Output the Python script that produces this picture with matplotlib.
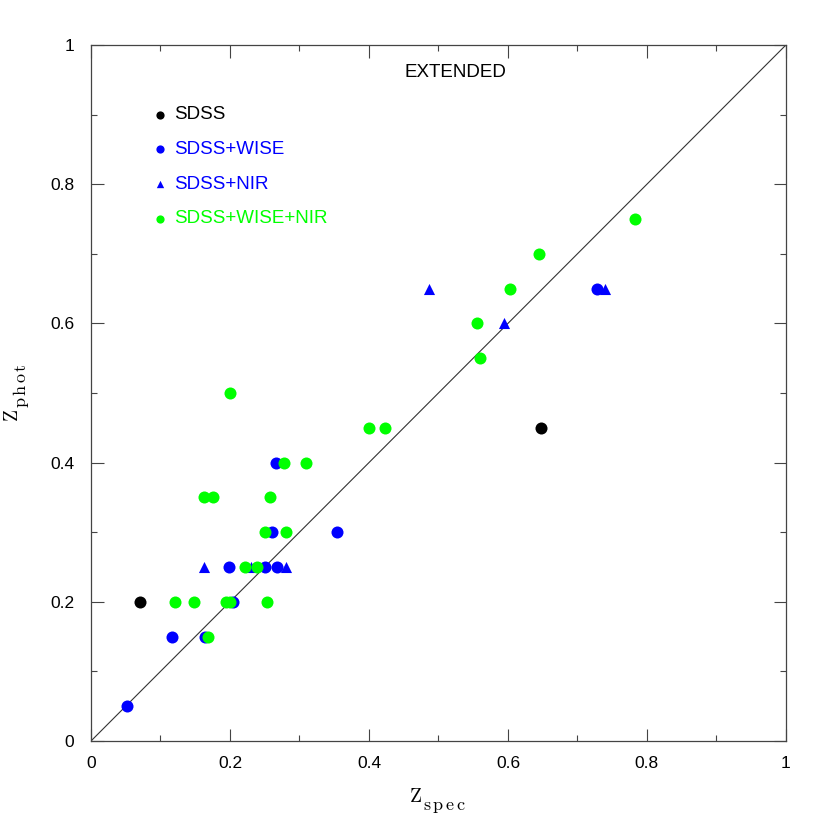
import matplotlib
matplotlib.use('Agg')
import matplotlib.pyplot as plt
from matplotlib.ticker import MultipleLocator

plt.rcParams['font.family'] = ['Liberation Sans', 'DejaVu Sans']
plt.rcParams['mathtext.fontset'] = 'cm'

# photometric vs spectroscopic redshifts
sdss_x = [0.070, 0.648]
sdss_y = [0.20, 0.45]

wise_x = [0.052, 0.117, 0.164, 0.204, 0.198, 0.250, 0.267, 0.260, 0.354, 0.266, 0.728]
wise_y = [0.05, 0.15, 0.15, 0.20, 0.25, 0.25, 0.25, 0.30, 0.30, 0.40, 0.65]

nir_x = [0.163, 0.230, 0.281, 0.486, 0.595, 0.739]
nir_y = [0.25, 0.25, 0.25, 0.65, 0.60, 0.65]

all_x = [0.121, 0.148, 0.194, 0.200, 0.254, 0.169, 0.222, 0.239, 0.251, 0.280,
         0.1625, 0.176, 0.258, 0.278, 0.310, 0.200, 0.400, 0.423, 0.555, 0.560,
         0.603, 0.644, 0.783]
all_y = [0.20, 0.20, 0.20, 0.20, 0.20, 0.15, 0.25, 0.25, 0.30, 0.30,
         0.35, 0.35, 0.35, 0.40, 0.40, 0.50, 0.45, 0.45, 0.60, 0.55,
         0.65, 0.70, 0.75]

labels = ['SDSS', 'SDSS+WISE', 'SDSS+NIR', 'SDSS+WISE+NIR']
colors = ['black', '#0000ff', '#0000ff', '#00ff00']
markers = ['o', 'o', '^', 'o']

W = 830.0  # figure size in pixels, used to place the axis labels

fig = plt.figure(figsize=(8.3, 8.3), dpi=100)
ax = fig.add_axes([0.1096, 0.1072, 0.8373, 0.8386])

ax.plot([0, 1], [0, 1], color='#333333', linewidth=0.8, zorder=1)

ax.scatter(sdss_x, sdss_y, s=75, c='black', marker='o', linewidths=0, zorder=3)
ax.scatter(wise_x, wise_y, s=75, c='#0000ff', marker='o', linewidths=0, zorder=3)
ax.scatter(nir_x, nir_y, s=64, c='#0000ff', marker='^', linewidths=0, zorder=3)
ax.scatter(all_x, all_y, s=75, c='#00ff00', marker='o', linewidths=0, zorder=4)

# hand-made legend
for i, (lab, col, mk) in enumerate(zip(labels, colors, markers)):
    yy = 0.90 - i * 0.05
    ax.scatter([0.1], [yy], s=35 if mk == 'o' else 28, c=col, marker=mk, linewidths=0)
    ax.text(0.12, yy, lab, color=col, fontsize=13.5, va='center', ha='left')

ax.text(0.525, 0.96, 'EXTENDED', fontsize=13.5, ha='center', va='center')

ax.set_xlim(0, 1)
ax.set_ylim(0, 1)
ax.xaxis.set_major_locator(MultipleLocator(0.2))
ax.yaxis.set_major_locator(MultipleLocator(0.2))
ax.xaxis.set_minor_locator(MultipleLocator(0.1))
ax.yaxis.set_minor_locator(MultipleLocator(0.1))
ax.xaxis.set_major_formatter(plt.FuncFormatter(lambda v, p: f'{v:g}'))
ax.yaxis.set_major_formatter(plt.FuncFormatter(lambda v, p: f'{v:g}'))
ax.tick_params(which='both', direction='in', top=True, right=True,
               color='#444444', width=0.8, labelsize=12.5)
ax.tick_params(which='major', length=9)
ax.tick_params(axis='x', which='major', pad=11)
ax.tick_params(axis='y', which='major', pad=12)
ax.tick_params(which='minor', length=4.5)
for sp in ax.spines.values():
    sp.set_color('#444444')
    sp.set_linewidth(0.9)

# axis labels: Z with a big spaced-out subscript, as in the original
fig.text(415 / W, 1 - 802 / W, r'$\mathrm{Z}$', fontsize=14, ha='center', va='baseline')
fig.text(423 / W, 1 - 810 / W, r'$\mathrm{s\,p\,e\,c}$', fontsize=13, ha='left', va='baseline')
fig.text(18 / W, 1 - 416 / W, r'$\mathrm{Z}$', fontsize=14, rotation=90,
         rotation_mode='anchor', ha='center', va='baseline')
fig.text(26 / W, 1 - 408 / W, r'$\mathrm{p\,h\,o\,t}$', fontsize=13, rotation=90,
         rotation_mode='anchor', ha='left', va='baseline')

fig.savefig('out.png', dpi=100)
